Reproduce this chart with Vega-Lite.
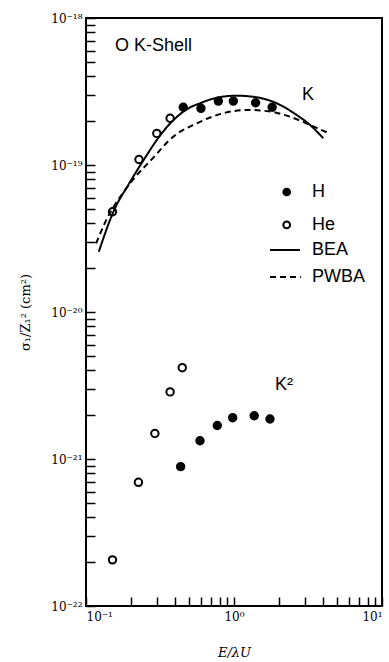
{
  "$schema": "https://vega.github.io/schema/vega-lite/v6.json",
  "width": 296,
  "height": 588,
  "autosize": "none",
  "padding": {"left": 86, "top": 18, "right": 7, "bottom": 56},
  "background": "white",
  "config": {
    "view": {"stroke": "black", "strokeWidth": 2},
    "axis": {"domainOpacity": 0, "gridOpacity": 0, "ticks": true, "tickColor": "black", "tickWidth": 1.5, "labelColor": "black", "titleColor": "black"}
  },
  "datasets": {
    "curves": [
      {"model": "BEA", "x": 0.122, "y": 2.57e-20},
      {"model": "BEA", "x": 0.155, "y": 4.94e-20},
      {"model": "BEA", "x": 0.196, "y": 7.5e-20},
      {"model": "BEA", "x": 0.242, "y": 1.06e-19},
      {"model": "BEA", "x": 0.337, "y": 1.72e-19},
      {"model": "BEA", "x": 0.41, "y": 2.12e-19},
      {"model": "BEA", "x": 0.5, "y": 2.45e-19},
      {"model": "BEA", "x": 0.589, "y": 2.63e-19},
      {"model": "BEA", "x": 0.7, "y": 2.8e-19},
      {"model": "BEA", "x": 0.847, "y": 2.92e-19},
      {"model": "BEA", "x": 1.04, "y": 2.96e-19},
      {"model": "BEA", "x": 1.42, "y": 2.89e-19},
      {"model": "BEA", "x": 1.94, "y": 2.63e-19},
      {"model": "BEA", "x": 2.65, "y": 2.19e-19},
      {"model": "BEA", "x": 3.27, "y": 1.87e-19},
      {"model": "BEA", "x": 4.01, "y": 1.52e-19},
      {"model": "PWBA", "x": 0.117, "y": 2.93e-20},
      {"model": "PWBA", "x": 0.137, "y": 4.22e-20},
      {"model": "PWBA", "x": 0.177, "y": 6.42e-20},
      {"model": "PWBA", "x": 0.207, "y": 7.91e-20},
      {"model": "PWBA", "x": 0.282, "y": 1.11e-19},
      {"model": "PWBA", "x": 0.389, "y": 1.56e-19},
      {"model": "PWBA", "x": 0.56, "y": 1.92e-19},
      {"model": "PWBA", "x": 0.847, "y": 2.25e-19},
      {"model": "PWBA", "x": 1.22, "y": 2.37e-19},
      {"model": "PWBA", "x": 1.75, "y": 2.31e-19},
      {"model": "PWBA", "x": 2.39, "y": 2.13e-19},
      {"model": "PWBA", "x": 3.27, "y": 1.87e-19},
      {"model": "PWBA", "x": 4.41, "y": 1.64e-19}
    ],
    "legendLines": [
      {"model": "BEA", "x": 1.75, "y": 2.64e-20},
      {"model": "BEA", "x": 2.79, "y": 2.64e-20},
      {"model": "PWBA", "x": 1.75, "y": 1.73e-20},
      {"model": "PWBA", "x": 2.83, "y": 1.73e-20}
    ],
    "points": [
      {"proj": "H", "group": "K", "x": 0.454, "y": 2.47e-19},
      {"proj": "H", "group": "K", "x": 0.598, "y": 2.43e-19},
      {"proj": "H", "group": "K", "x": 0.784, "y": 2.72e-19},
      {"proj": "H", "group": "K", "x": 0.99, "y": 2.72e-19},
      {"proj": "H", "group": "K", "x": 1.4, "y": 2.65e-19},
      {"proj": "H", "group": "K", "x": 1.81, "y": 2.47e-19},
      {"proj": "He", "group": "K", "x": 0.151, "y": 4.81e-20},
      {"proj": "He", "group": "K", "x": 0.228, "y": 1.09e-19},
      {"proj": "He", "group": "K", "x": 0.301, "y": 1.64e-19},
      {"proj": "He", "group": "K", "x": 0.37, "y": 2.08e-19},
      {"proj": "He", "group": "K2", "x": 0.151, "y": 2.06e-22},
      {"proj": "He", "group": "K2", "x": 0.226, "y": 6.94e-22},
      {"proj": "He", "group": "K2", "x": 0.292, "y": 1.49e-21},
      {"proj": "He", "group": "K2", "x": 0.37, "y": 2.86e-21},
      {"proj": "He", "group": "K2", "x": 0.447, "y": 4.18e-21},
      {"proj": "H", "group": "K2", "x": 0.436, "y": 8.87e-22},
      {"proj": "H", "group": "K2", "x": 0.589, "y": 1.33e-21},
      {"proj": "H", "group": "K2", "x": 0.771, "y": 1.69e-21},
      {"proj": "H", "group": "K2", "x": 0.98, "y": 1.91e-21},
      {"proj": "H", "group": "K2", "x": 1.37, "y": 1.97e-21},
      {"proj": "H", "group": "K2", "x": 1.75, "y": 1.87e-21}
    ],
    "legendPoints": [
      {"proj": "H", "x": 2.27, "y": 6.55e-20},
      {"proj": "He", "x": 2.27, "y": 3.91e-20}
    ],
    "labels": [
      {"text": "O K-Shell", "x": 0.157, "y": 6.45e-19},
      {"text": "K", "x": 2.88, "y": 3.0e-19},
      {"text": "K²", "x": 1.89, "y": 3.19e-21},
      {"text": "H", "x": 3.37, "y": 6.55e-20},
      {"text": "He", "x": 3.37, "y": 3.91e-20},
      {"text": "BEA", "x": 3.37, "y": 2.64e-20},
      {"text": "PWBA", "x": 3.37, "y": 1.73e-20}
    ]
  },
  "encoding": {
    "x": {"field": "x", "type": "quantitative",
      "scale": {"type": "log", "domain": [0.1, 10], "nice": false},
      "axis": {"orient": "bottom", "values": [0.1, 0.2, 0.3, 0.4, 0.5, 0.6, 0.7, 0.8, 0.9, 1, 2, 3, 4, 5, 6, 7, 8, 9, 10], "offset": -9, "tickSize": 9, "labelPadding": 5,
        "labelFont": "DejaVu Serif", "labelFontSize": 12,
        "labelExpr": "abs(log(datum.value)/LN10 - round(log(datum.value)/LN10)) > 0.01 ? '' : round(log(datum.value)/LN10) == -1 ? '10⁻¹' : round(log(datum.value)/LN10) == 0 ? '10⁰' : '10¹'",
        "title": "E/λU", "titleFont": "DejaVu Serif", "titleFontStyle": "italic", "titleFontWeight": "normal", "titleFontSize": 13, "titlePadding": 24}},
    "y": {"field": "y", "type": "quantitative",
      "scale": {"type": "log", "domain": [1e-22, 1e-18], "nice": false},
      "axis": {"orient": "left", "values": [1e-22, 2e-22, 3e-22, 4e-22, 5e-22, 6e-22, 7e-22, 8e-22, 9e-22, 1e-21, 2e-21, 3e-21, 4e-21, 5e-21, 6e-21, 7e-21, 8e-21, 9e-21, 1e-20, 2e-20, 3e-20, 4e-20, 5e-20, 6e-20, 7e-20, 8e-20, 9e-20, 1e-19, 2e-19, 3e-19, 4e-19, 5e-19, 6e-19, 7e-19, 8e-19, 9e-19, 1e-18], "offset": -9, "tickSize": 9, "labelPadding": 4,
        "labelFont": "DejaVu Serif", "labelFontSize": 12,
        "labelExpr": "abs(log(datum.value)/LN10 - round(log(datum.value)/LN10)) > 0.01 ? '' : round(log(datum.value)/LN10) == -18 ? '10⁻¹⁸' : round(log(datum.value)/LN10) == -19 ? '10⁻¹⁹' : round(log(datum.value)/LN10) == -20 ? '10⁻²⁰' : round(log(datum.value)/LN10) == -21 ? '10⁻²¹' : '10⁻²²'",
        "title": "σ₁/Z₁² (cm²)", "titleFont": "DejaVu Serif", "titleFontWeight": "normal", "titleFontSize": 13, "titlePadding": 18}}
  },
  "layer": [
    {
      "data": {"name": "curves"},
      "mark": {"type": "line", "color": "black", "strokeWidth": 2, "interpolate": "monotone", "clip": true},
      "encoding": {
        "strokeDash": {"field": "model", "type": "nominal", "scale": {"domain": ["BEA", "PWBA"], "range": [[1, 0], [6, 4]]}, "legend": null}
      }
    },
    {
      "data": {"name": "legendLines"},
      "mark": {"type": "line", "color": "black", "strokeWidth": 2},
      "encoding": {
        "detail": {"field": "model"},
        "strokeDash": {"field": "model", "type": "nominal", "scale": {"domain": ["BEA", "PWBA"], "range": [[1, 0], [6, 4]]}, "legend": null}
      }
    },
    {
      "data": {"name": "points"},
      "mark": {"type": "point", "shape": "circle", "size": 55, "strokeWidth": 2, "stroke": "black", "opacity": 1},
      "encoding": {
        "fill": {"field": "proj", "type": "nominal", "scale": {"domain": ["H", "He"], "range": ["black", "transparent"]}, "legend": null}
      }
    },
    {
      "data": {"name": "legendPoints"},
      "mark": {"type": "point", "shape": "circle", "size": 45, "strokeWidth": 2, "stroke": "black", "opacity": 1},
      "encoding": {
        "fill": {"field": "proj", "type": "nominal", "scale": {"domain": ["H", "He"], "range": ["black", "transparent"]}, "legend": null}
      }
    },
    {
      "data": {"name": "labels"},
      "mark": {"type": "text", "align": "left", "baseline": "middle", "font": "Liberation Sans", "fontSize": 18, "color": "black"},
      "encoding": {
        "text": {"field": "text"}
      }
    }
  ]
}
